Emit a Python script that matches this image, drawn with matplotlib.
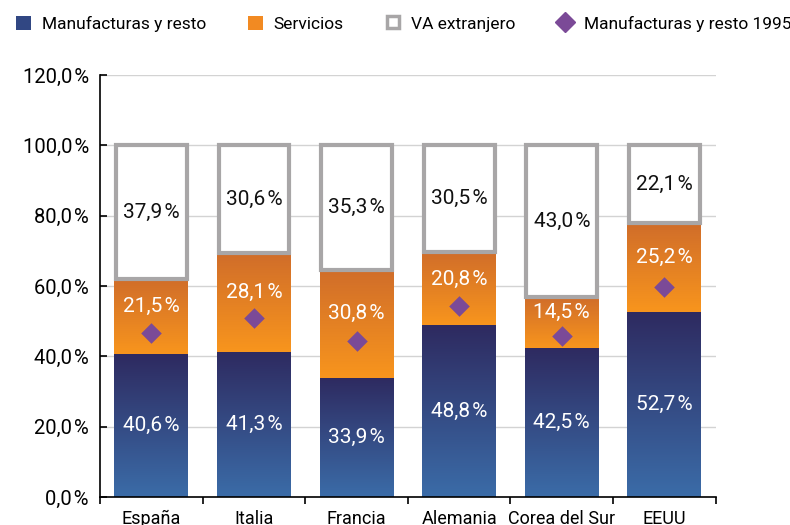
import matplotlib.pyplot as plt
import numpy as np
from matplotlib.patches import Patch
from matplotlib.lines import Line2D
from matplotlib.colors import LinearSegmentedColormap

plt.rcParams['font.family'] = ['Roboto', 'DejaVu Sans']

# Data
paises = ['España', 'Italia', 'Francia', 'Alemania', 'Corea del Sur', 'EEUU']
manufacturas = [40.6, 41.3, 33.9, 48.8, 42.5, 52.7]
servicios = [21.5, 28.1, 30.8, 20.8, 14.5, 25.2]
va_extranjero = [37.9, 30.6, 35.3, 30.5, 43.0, 22.1]
manuf_1995 = [46.7, 50.9, 44.4, 54.3, 45.8, 59.7]

blue_cmap = LinearSegmentedColormap.from_list('b', ['#3b6ca8', '#2e2a60'])
orange_cmap = LinearSegmentedColormap.from_list('o', ['#f8951d', '#d06d2a'])
gray = '#a8a6a7'
purple = '#7b4a97'


def fmt(v):
    return f'{v:.1f}'.replace('.', ',') + '\u200a%'


def gradient_fill(ax, bars, cmap):
    grad = np.linspace(0, 1, 256).reshape(-1, 1)
    for b in bars:
        x0, y0 = b.get_x(), b.get_y()
        w, h = b.get_width(), b.get_height()
        im = ax.imshow(grad, cmap=cmap, origin='lower', aspect='auto',
                       extent=[x0, x0 + w, y0, y0 + h], zorder=b.get_zorder())
        im.set_clip_path(b)


fig = plt.figure(figsize=(7.9, 5.25), dpi=100)
ax = fig.add_axes([0.1266, 0.0533, 0.7794, 0.8037])

x = np.arange(len(paises))
width = 0.72
bottom2 = np.array(manufacturas)
bottom3 = bottom2 + np.array(servicios)

b1 = ax.bar(x, manufacturas, width, color='#334a86', zorder=2)
b2 = ax.bar(x, servicios, width, bottom=bottom2, color='#f28a22', zorder=2)
gradient_fill(ax, b1, blue_cmap)
gradient_fill(ax, b2, orange_cmap)
b3 = ax.bar(x, va_extranjero, width - 0.03, bottom=bottom3, color='white',
            edgecolor=gray, linewidth=3, zorder=2)

ax.scatter(x, manuf_1995, marker='D', s=110, color=purple, zorder=4, linewidths=0)

for i in range(len(paises)):
    ax.text(x[i], manufacturas[i] / 2, fmt(manufacturas[i]), ha='center', va='center',
            color='white', fontsize=15, zorder=5)
    ax.text(x[i], bottom2[i] + servicios[i] / 2 + 2.8, fmt(servicios[i]), ha='center',
            va='center', color='white', fontsize=15, zorder=5)
    ax.text(x[i], bottom3[i] + va_extranjero[i] / 2, fmt(va_extranjero[i]), ha='center',
            va='center', color='#111111', fontsize=15, zorder=5)

ax.set_xlim(-0.5, len(paises) - 0.5)
ax.set_ylim(0, 120)
ax.set_yticks(np.arange(0, 121, 20))
ax.set_yticklabels([fmt(v) for v in np.arange(0, 121, 20)])
ax.yaxis.grid(True, color='#d3d3d3', linewidth=1, zorder=0)
ax.set_axisbelow(True)

ax.set_xticks(x)
ax.set_xticklabels(paises)
ax.set_xticks(np.arange(-0.5, len(paises), 1), minor=True)
ax.tick_params(axis='x', which='major', length=0, pad=9, labelsize=13)
ax.tick_params(axis='x', which='minor', length=5, width=1.2, direction='out')
ax.tick_params(axis='y', length=5, width=1.2, direction='in', labelsize=14.5, pad=8)

for s in ['top', 'right']:
    ax.spines[s].set_visible(False)
ax.spines['left'].set_linewidth(1.2)
ax.spines['bottom'].set_linewidth(1.2)

handles = [
    Patch(facecolor='#314783'),
    Patch(facecolor='#f28a22'),
    Line2D([], [], marker='s', linestyle='none', markersize=9, markerfacecolor='white',
           markeredgecolor=gray, markeredgewidth=2.5),
    Line2D([], [], marker='D', linestyle='none', markersize=10, color=purple),
]
labels = ['Manufacturas y resto', 'Servicios', 'VA extranjero', 'Manufacturas y resto 1995']
fig.legend(handles, labels, loc='upper left', bbox_to_anchor=(0.0, 1.0), ncol=4,
           frameon=False, fontsize=12.5, handlelength=0.9, handleheight=0.9,
           handletextpad=0.6, columnspacing=2.4)

fig.savefig('out.png', dpi=100)
